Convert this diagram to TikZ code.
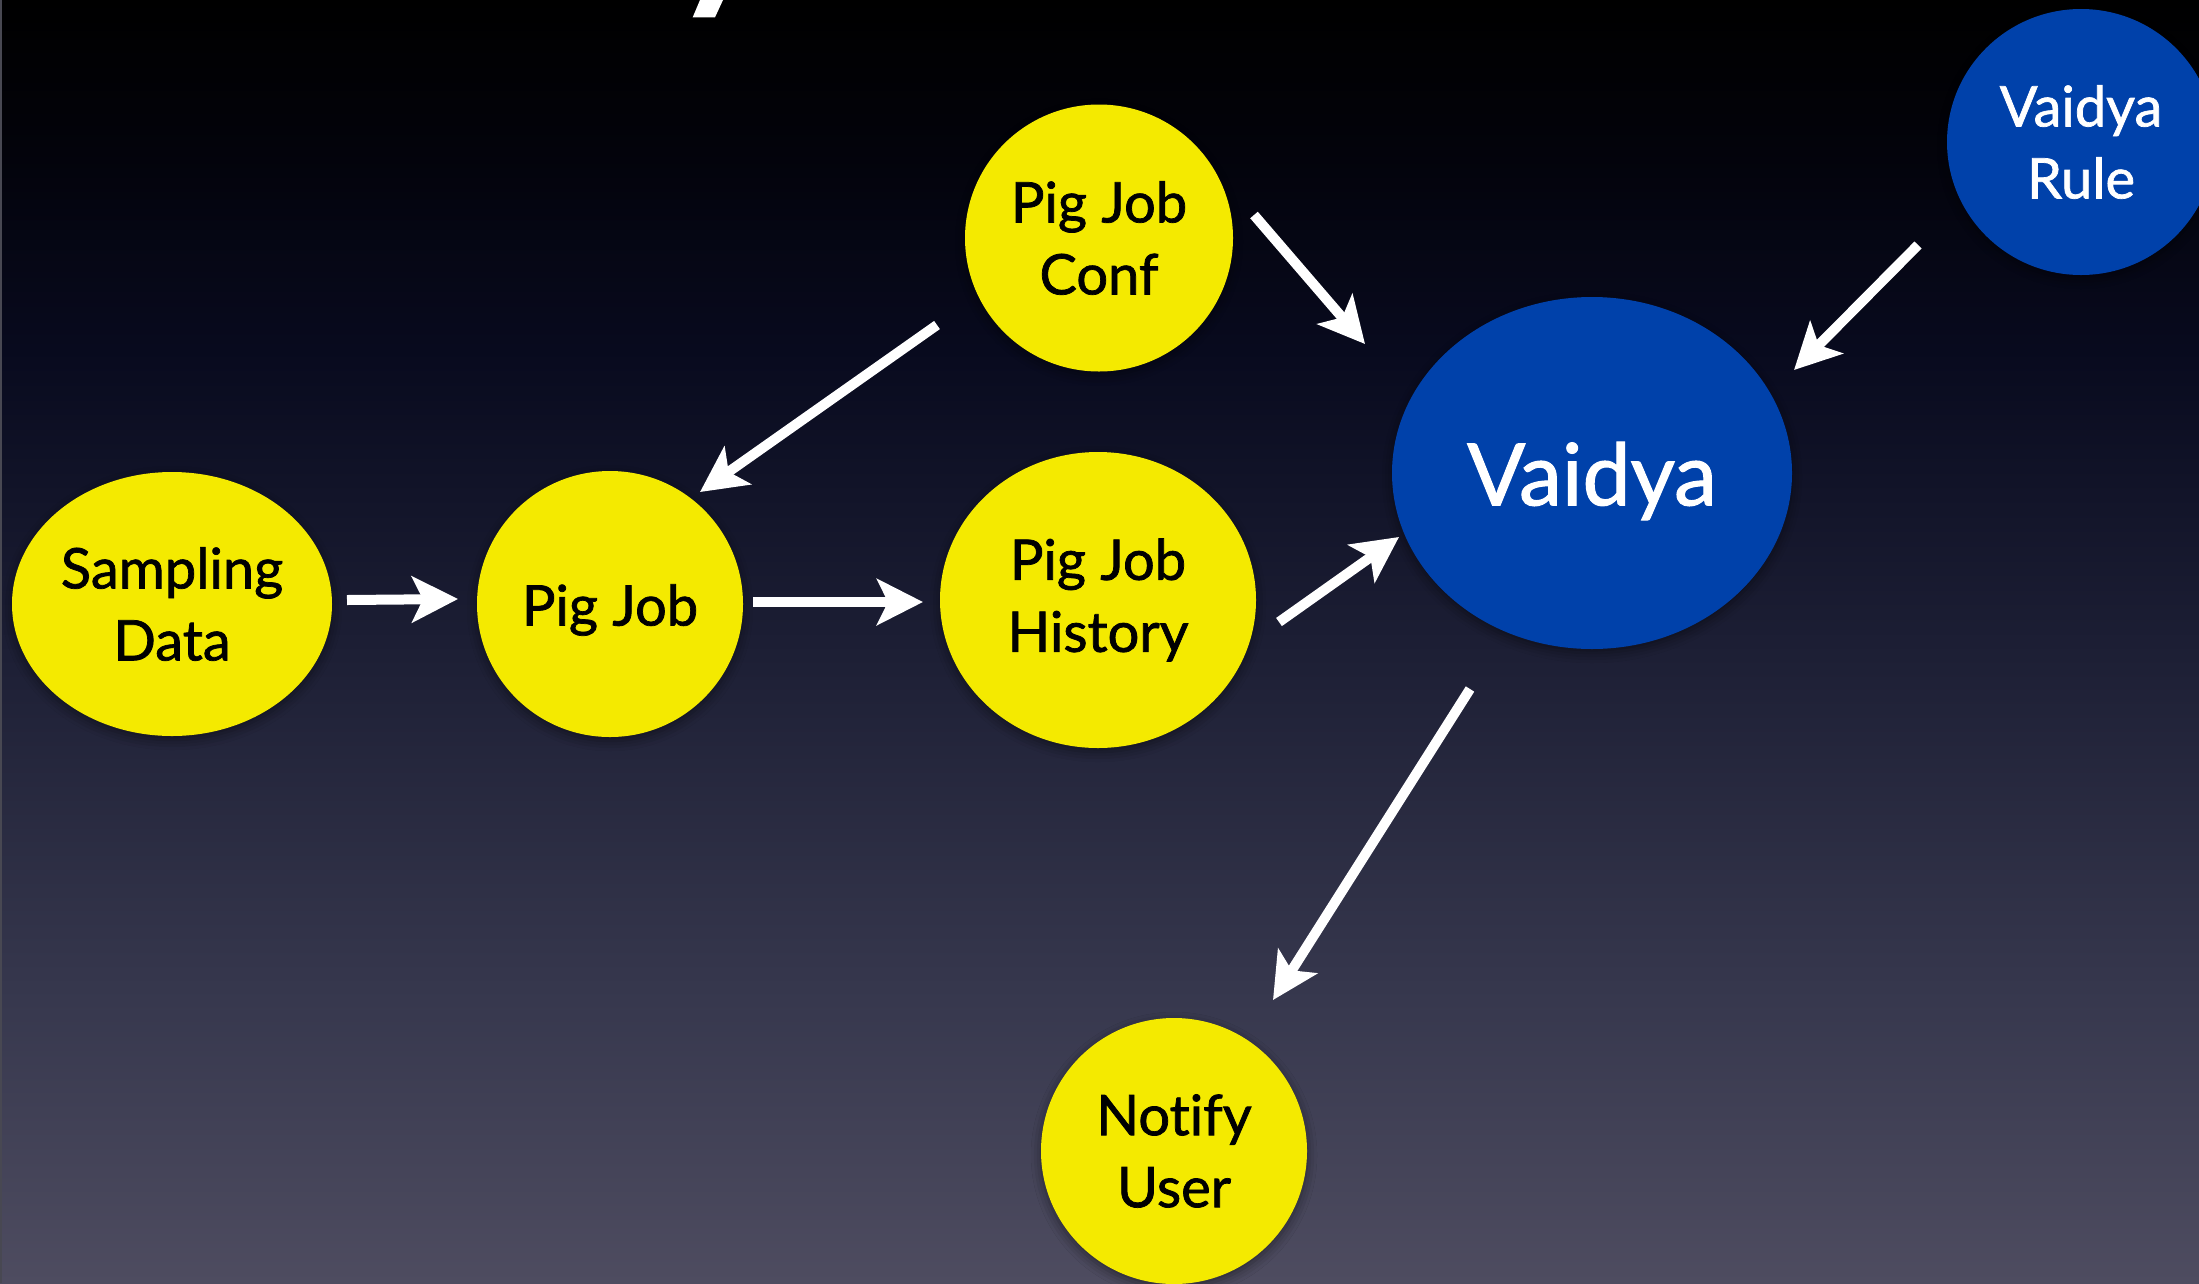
\documentclass[tikz,border=0pt]{standalone}
\usepackage{fontspec}
\setmainfont{Lato}[Ligatures=CommonOff, RawFeature={embolden=1.3}]
\usetikzlibrary{arrows.meta,shapes.geometric,shadows.blur}
\definecolor{ylw}{RGB}{244,234,0}
\definecolor{blu}{RGB}{0,65,170}
\definecolor{bgA}{RGB}{78,76,96}
\definecolor{bgB}{RGB}{55,56,78}
\definecolor{bgC}{RGB}{28,30,52}
\definecolor{bgD}{RGB}{8,10,30}
\definecolor{bgE}{RGB}{2,2,8}
\definecolor{edgegray}{RGB}{72,72,82}
\pgfdeclareverticalshading{bgshade}{100bp}{color(0bp)=(bgA); color(25bp)=(bgA); color(36bp)=(bgB); color(50bp)=(bgC); color(61.4bp)=(bgD); color(70.3bp)=(bgE); color(75bp)=(black); color(100bp)=(black)}
\tikzset{
  yel/.style={ellipse, fill=ylw, inner sep=0pt, align=center, text=black,
    font=\fontsize{56}{72}\selectfont,
    blur shadow={shadow xshift=0pt, shadow yshift=-4pt, shadow blur radius=10pt, shadow opacity=45}},
  bluenode/.style={ellipse, fill=blu, inner sep=0pt, align=center, text=white,
    font=\fontsize{56}{72}\selectfont,
    blur shadow={shadow xshift=0pt, shadow yshift=-4pt, shadow blur radius=10pt, shadow opacity=45}},
  arr/.style={draw=white, line width=10pt, -{Stealth[length=46pt,width=46pt,inset=11pt]}}
}
\begin{document}
\begin{tikzpicture}[x=1pt,y=-1pt]
\useasboundingbox (0,0) rectangle (2199,1283);
\clip (0,0) rectangle (2199,1283);
\shade[shading=bgshade] (0,0) rectangle (2199,1283);
\draw[edgegray, line width=2pt] (1,0) -- (1,1283);
% tail of a cut-off title glyph
\fill[white] (700,0) -- (723,0) -- (715,17.3) -- (692.7,17.3) -- cycle;

\node[yel, minimum width=320pt, minimum height=264pt] (sd) at (172,604) {Sampling\\Data};
\node[yel, minimum width=266pt, minimum height=266pt] (pj) at (610,604) {\raisebox{-6pt}[\height][\depth]{Pig Job}};
\node[yel, minimum width=268pt, minimum height=267pt] (conf) at (1099,238) {Pig Job\\Conf};
\node[yel, minimum width=316pt, minimum height=296pt] (hist) at (1098,600) {Pig Job\\History};
\node[bluenode, minimum width=400pt, minimum height=352pt, font=\fontsize{86}{100}\selectfont] (vd) at (1592,473) {\raisebox{-8pt}[\height][\depth]{Vaidya}};
\node[bluenode, minimum width=268pt, minimum height=266pt] (rule) at (2081,142) {Vaidya\\Rule};
\node[yel, minimum width=266pt, minimum height=266pt] (notify) at (1174,1151) {Notify\\User};

\draw[arr] ([shift={(175,-4)}]sd.center) -- ([shift={(-152,-5)}]pj.center);
\draw[arr] ([shift={(143,-2)}]pj.center) -- ([shift={(-175,2)}]hist.center);
\draw[arr] ([shift={(-162,87)}]conf.center) -- ([shift={(90,-112)}]pj.center);
\draw[arr] ([shift={(155,-23)}]conf.center) -- ([shift={(-227,-129)}]vd.center);
\draw[arr] ([shift={(181,22)}]hist.center) -- ([shift={(-193,64)}]vd.center);
\draw[arr] ([shift={(-163,103)}]rule.center) -- ([shift={(202,-103)}]vd.center);
\draw[arr] ([shift={(-122,216)}]vd.center) -- ([shift={(99,-151)}]notify.center);
\end{tikzpicture}
\end{document}
